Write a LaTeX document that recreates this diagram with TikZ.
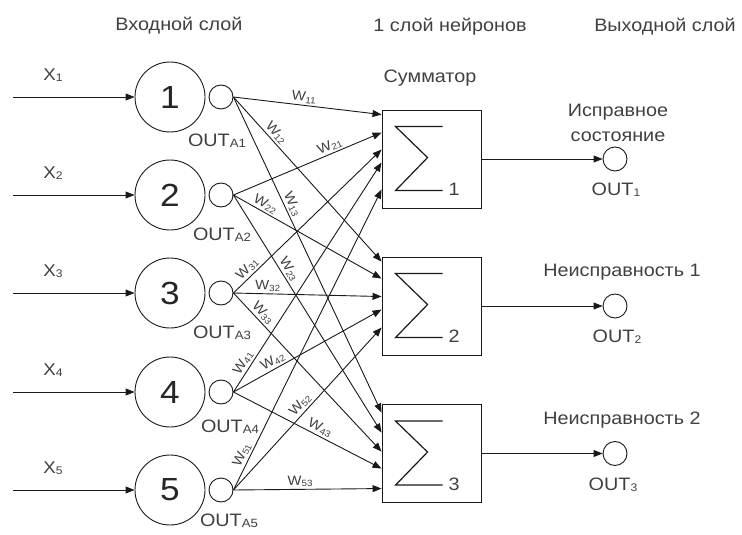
\documentclass[tikz,border=0pt]{standalone}
\usepackage{fontspec}
\setmainfont{Liberation Sans}[FakeStretch=1.1]
\usetikzlibrary{arrows.meta,calc}
\newcommand\wsub[1]{W\raisebox{-1.5pt}{\fontsize{9}{9}\selectfont #1}}
\newcommand\xsub[2]{#1\raisebox{-1pt}{\fontsize{11}{11}\selectfont #2}}
\begin{document}
\begin{tikzpicture}[x=1pt,y=-1pt,
  line/.style={draw=black!90,line width=0.9pt},
  arr/.style={line,-{Triangle[length=9pt,width=7pt]}},
  bigc/.style={circle,draw=black!90,line width=0.9pt,minimum size=70pt,inner sep=0pt,font=\fontsize{32}{32}\selectfont,text=black!85},
  smallc/.style={circle,draw=black!90,line width=0.9pt,minimum size=24pt,inner sep=0pt},
  sumbox/.style={draw=black!90,line width=0.9pt,minimum width=99pt,minimum height=98pt,inner sep=0pt},
  lbl/.style={text=black!75,font=\fontsize{18}{20}\selectfont,inner sep=0pt},
  xlbl/.style={text=black!75,font=\fontsize{17}{18}\selectfont,inner sep=0pt},
  wlbl/.style={text=black!75,font=\fontsize{13.5}{14}\selectfont,inner sep=2pt,sloped,above},
  sigma/.style={draw=black!90,line width=1.2pt},
]
\useasboundingbox (0,0) rectangle (742,535);

% headers
\node[lbl] (h1) at (179,26) {Входной слой};
\node[lbl] (h2) at (450,27) {1 слой нейронов};
\node[lbl] (h3) at (665,27) {Выходной слой};
\node[lbl] (hs) at (430,78) {Сумматор};

% input layer
\foreach \i/\y/\ox/\oy in {1/97/217/141,2/195/222/235,3/293/222/333,4/392/230/427,5/490/229/521}{
  \node[bigc] (n\i) at (170,\y) {\i};
  \node[smallc] (s\i) at (221,\y) {};
  \coordinate (in\i) at (13,\y);
  \draw[arr] (in\i) -- (n\i.west);
  \node[xlbl] (x\i) at (53,\y-22) {\xsub{X}{\i}};
  \node[lbl] (oa\i) at (\ox,\oy) {OUT\raisebox{-1pt}{\fontsize{12}{12}\selectfont A\i}};
}

% summators
\foreach \j/\y in {1/159,2/306,3/453.5}{
  \node[sumbox] (b\j) at (431.5,\y) {};
  \draw[sigma] ($(b\j.north west)+(61,17)$) -- ($(b\j.north west)+(14,17)$)
     -- ($(b\j.north west)+(46,48)$) -- ($(b\j.north west)+(14,81)$) -- ($(b\j.north west)+(61,81)$);
  \node[lbl] (d\j) at ($(b\j.north west)+(72.5,80)$) {\j};
  \node[smallc] (o\j) at (615,\y) {};
  \draw[arr] (b\j.east) -- (o\j.west);
}

% weighted connections
\foreach \i/\j/\o/\p in {1/1/5/0.47, 1/2/5/0.25, 1/3/8.5/0.35,
                         2/1/23/0.67, 2/2/22/0.19, 2/3/28.5/0.33,
                         3/1/40/0.13, 3/2/40/0.23, 3/3/47.5/0.16,
                         4/1/53/0.11, 4/2/53/0.29, 4/3/64.5/0.56,
                         5/1/80/0.105, 5/2/71/0.49, 5/3/84.5/0.45}{
  \draw[arr] (s\i.east) -- ($(b\j.north west)+(0,\o)$) node[wlbl,pos=\p] {\wsub{\i\j}};
}

% output labels
\node[lbl] (t1a) at (618,112) {Исправное};
\node[lbl] (t1b) at (618,137) {состояние};
\node[lbl] (out1) at (616,190) {\xsub{OUT}{1}};
\node[lbl] (t2) at (622,272) {Неисправность 1};
\node[lbl] (out2) at (617,337) {\xsub{OUT}{2}};
\node[lbl] (t3) at (622,420) {Неисправность 2};
\node[lbl] (out3) at (613,485) {\xsub{OUT}{3}};
\end{tikzpicture}
\end{document}
